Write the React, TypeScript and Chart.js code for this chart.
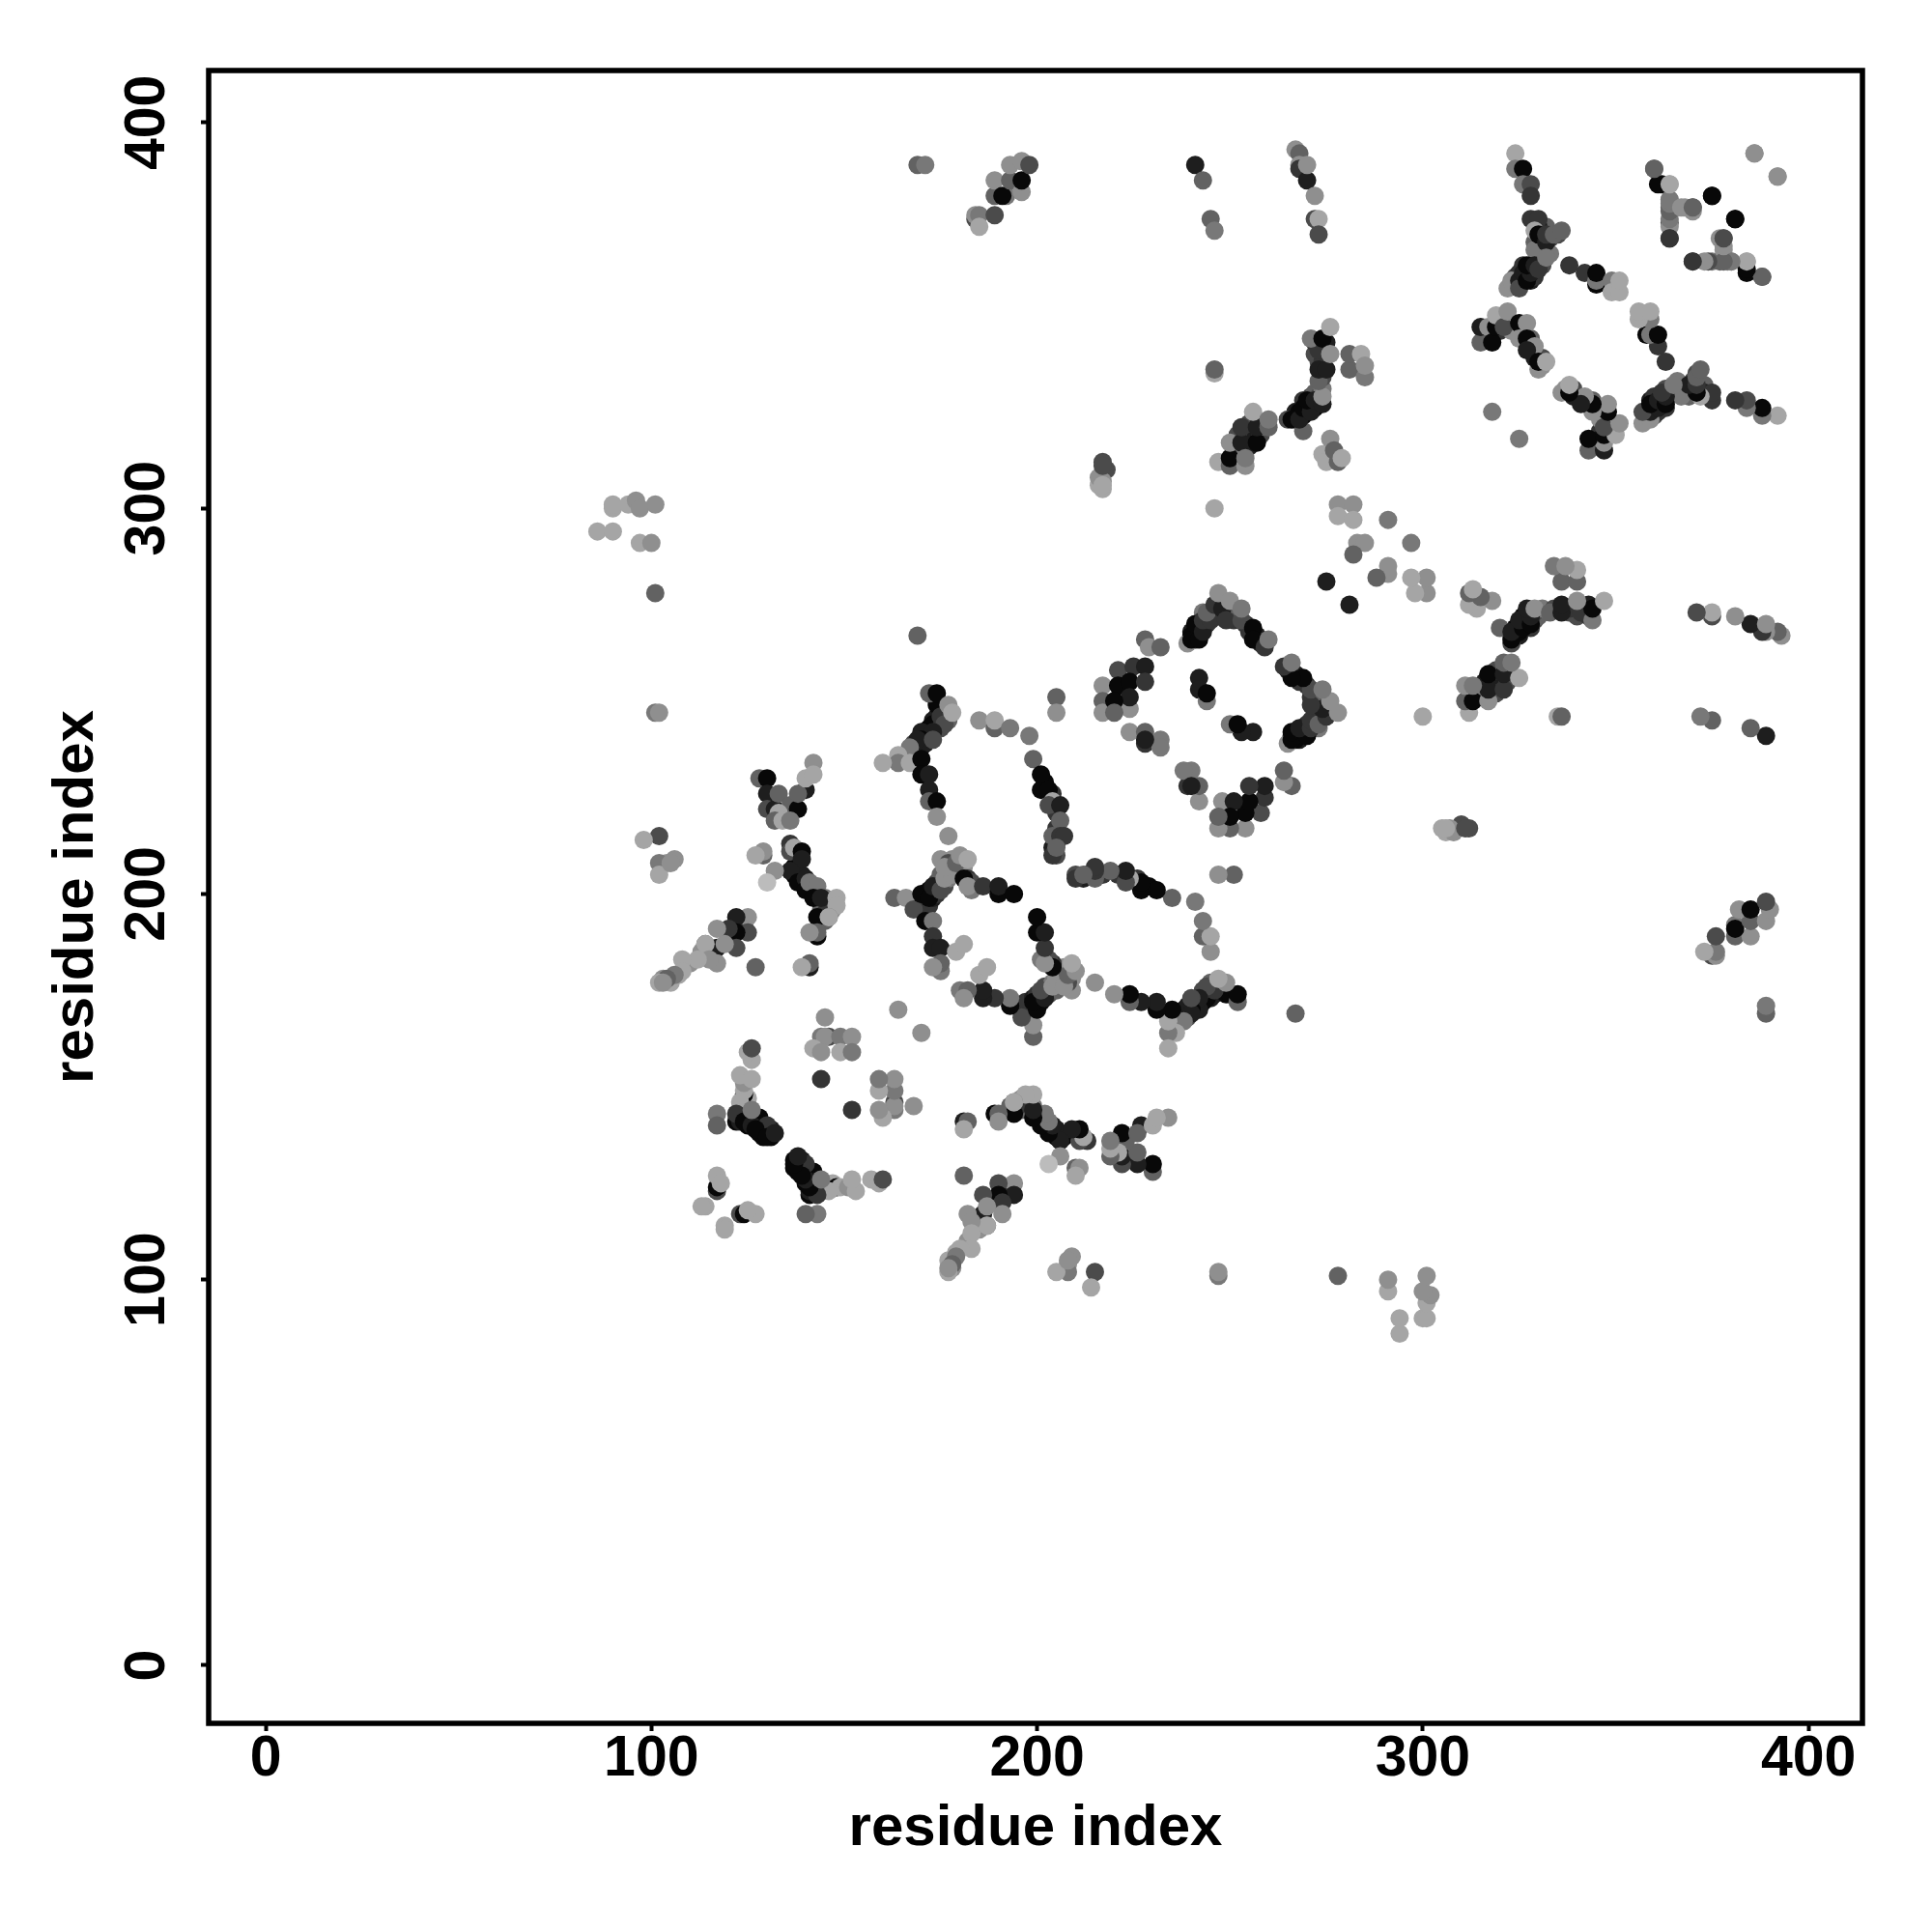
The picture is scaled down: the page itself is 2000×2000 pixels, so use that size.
import React, { useEffect, useRef } from "react";
import { Chart, registerables } from "chart.js";

Chart.register(...registerables);

type Contact = [number, number, number];

// Each contact: residue i, residue j (i < j), contact weight from 1 (weak) to 9 (strong).
const denseStrands: Contact[] = [
  [175,248,7],[174,246,8],[173,245,8],[174,244,8],[172,243,9],[173,244,9],[171,242,9],[172,241,8],[170,242,8],[171,240,9],[170,238,7],[169,239,8],[168,239,6],[175,243,6],[176,246,7],[177,245,5],[176,248,4],[174,249,9],[174,250,9],
  [169,197,8],[170,198,9],[171,197,9],[171,199,8],[172,201,9],[172,197,7],[173,199,8],[173,200,6],[174,200,7],[174,203,6],[175,203,5],[175,205,5],[176,202,6],[177,204,4],[177,206,5],[178,207,4],[178,209,3],[179,206,5],[180,206,7],[180,208,3],[181,207,3],[182,204,7],[183,203,6],[183,201,4],
  [241,266,9],[241,268,9],[242,268,8],[242,270,8],[243,269,9],[243,273,4],[244,270,7],[244,271,6],[245,273,5],[246,272,5],[240,268,8],[240,267,9],[247,275,5],[247,272,6],[248,272,7],[249,273,7],[250,272,6],[251,271,7],[252,273,5],[254,270,7],[255,268,7],[258,265,8],[257,267,8],
  [267,323,8],[267,325,8],[268,325,9],[269,324,9],[269,328,7],[270,325,9],[270,326,8],[271,327,8],[271,329,6],[272,326,9],[272,330,5],[273,327,9],[273,329,6],[274,331,4],[274,334,6],[273,338,6],[272,340,6],[274,338,7],[274,341,8],[275,343,8],[275,340,7],[273,343,8],[272,343,7],
  [251,315,7],[252,315,6],[255,318,8],[255,320,8],[255,322,6],[255,316,8],[258,319,6],[258,321,5],[259,322,4],[252,319,6],[251,312,5],[253,313,4],
  [324,358,7],[324,360,6],[325,361,7],[326,359,8],[326,363,7],[327,361,9],[328,359,8],[328,363,8],[329,361,9],[329,360,7],[330,364,7],[331,363,6],[331,365,5],[332,367,4],[333,366,4],
  [330,368,7],[331,370,8],[331,368,5],[332,373,5],[333,370,6],[335,371,6],[330,373,8],[329,369,5],[329,367,4],
  [137,205,9],[137,207,9],[139,205,8],[141,201,8],[142,201,7],[143,200,8],[145,199,4],[147,198,3],[147,196,3],[144,196,5],[145,195,7],[145,193,5],
  [122,141,9],[123,141,8],[125,140,9],[125,142,9],[127,140,8],[128,138,9],[129,139,8],[129,137,9],[131,137,9],[131,139,8],[124,144,5],[125,145,3],[124,146,3],[125,147,2],
  [124,192,7],[120,188,6],[121,189,5],[113,185,3],[116,184,3],[110,182,3],[105,178,3],[105,177,2],[107,179,2],[103,178,3],
  [202,229,9],[204,226,7],[205,221,7],[205,217,7],[205,215,6],[205,213,8],[204,212,8],[205,210,6],
  [316,345,6],[320,347,8],[320,346,7],[323,346,3],[326,346,8],[328,344,5],[328,341,8],[329,339,8],[331,337,3],[331,339,6],
  [217,309,5],[216,306,2],[218,310,6],[217,307,3],[217,312,6],
];
const sheetFar: Contact[] = [
  [86,294,2],[90,294,2],[90,300,2],[90,301,2],[94,301,2],[96,302,3],[97,300,3],[101,301,3],[97,291,2],[100,291,3],[101,278,5],[101,247,4],[102,247,3],
  [102,215,6],[98,214,2],[106,209,3],[104,208,3],[102,208,4],[102,205,2],[105,208,3],
  [246,335,2],[246,336,5],[246,300,2],[216,308,3],[217,305,2],[217,306,2],[217,311,6],[205,251,5],[205,247,3],[169,267,5],
];
const strandB: Contact[] = [
  [125,194,3],[122,194,8],[125,190,6],[122,190,9],[120,191,7],[117,191,3],[117,186,8],[122,186,6],[119,187,3],[114,187,5],[114,187,2],[117,182,3],[115,183,3],[112,183,2],[108,183,2],[108,180,2],[106,179,4],[104,178,5],[102,177,2],[103,177,3],[127,181,5],
];
const strandC: Contact[] = [
  [128,230,5],[130,230,9],[130,226,8],[130,222,6],[132,222,8],[133,226,5],[136,223,5],[138,222,9],[140,227,8],[138,226,5],[133,221,2],[132,219,5],[134,219,2],[136,219,4],[142,234,3],[140,230,2],[142,231,2],
];
const strandD: Contact[] = [
  [136,213,7],[136,211,6],[137,212,2],[139,211,9],[139,209,8],[136,206,8],[138,203,9],[140,204,8],[140,201,9],[141,203,4],[143,202,4],[142,199,9],[144,199,8],[148,199,2],[148,197,2],[143,189,9],[143,194,9],[146,194,4],[146,194,2],[143,190,5],[141,190,3],
  [129,210,5],[129,211,3],[127,210,2],[132,206,3],[130,203,1],[141,181,8],[141,182,5],[139,181,2],
];
const strandV: Contact[] = [
  [126,157,2],[125,159,2],[126,160,6],[124,148,9],[124,149,2],[124,151,3],[123,153,2],[126,152,2],[123,146,2],[117,143,4],[117,140,5],[122,143,7],[124,141,9],[128,142,9],[126,140,8],[126,144,4],[130,140,7],[127,139,9],[130,137,9],[132,138,8],
  [117,123,6],[117,124,9],[117,127,2],[118,125,2],[114,119,2],[113,119,2],[164,170,3],
  [145,168,3],[144,163,4],[146,163,6],[145,163,3],[149,163,4],[152,163,3],[142,160,2],[144,159,3],[149,159,2],[152,159,4],[144,152,7],
];
const hairpinOne: Contact[] = [
  [163,199,5],[166,199,3],[168,196,6],[170,200,9],[172,199,9],[173,202,8],[175,201,6],[176,204,3],[178,205,3],[175,209,3],[177,208,6],[176,207,3],[179,208,5],[180,210,3],[182,209,2],[181,204,9],[182,202,3],
  [186,202,7],[190,200,9],[190,202,8],[194,200,9],[171,193,9],[173,193,4],[173,189,7],[173,186,8],[175,186,8],[175,180,4],[175,182,5],[173,181,3],[179,185,2],[181,187,2],
];
const hairpinTwo: Contact[] = [
  [172,252,5],[174,252,9],[175,246,7],[176,244,6],[177,249,3],[178,247,2],[173,242,8],[170,240,9],[171,239,8],[169,240,8],[173,240,6],[167,238,4],[164,236,2],[164,234,4],[160,234,2],[167,234,2],
  [170,235,9],[170,231,9],[172,231,8],[172,227,8],[172,224,5],[174,224,9],[174,220,3],[177,215,3],
  [185,245,3],[189,243,5],[189,245,2],[193,243,4],[198,241,4],[199,235,5],[201,231,9],[201,227,9],[203,227,9],[204,224,2],[203,223,6],[206,223,8],[206,219,5],[204,215,5],[206,215,7],[207,215,7],[204,210,7],[205,212,5],
];
const diamond: Contact[] = [
  [228,266,5],[229,264,3],[232,264,5],[217,254,3],[217,250,5],[217,247,3],[221,258,6],[225,259,7],[228,259,8],[221,254,9],[224,255,9],[228,255,7],[224,248,3],[224,251,8],[220,250,9],[220,247,5],
  [228,239,7],[224,242,3],[228,242,5],[232,240,4],[232,238,4],[228,240,8],
  [242,256,8],[242,253,8],[244,250,4],[244,252,9],
  [239,265,3],[240,266,9],[242,266,9],[241,270,9],[243,268,8],[243,271,7],[245,271,7],[244,273,5],[246,275,7],[248,274,8],[249,271,7],[247,278,3],[250,276,3],[253,271,6],[253,274,4],[256,269,9],[256,266,9],[259,264,7],[260,266,4],
];
const ridge: Contact[] = [
  [247,312,2],[250,311,5],[250,313,9],[250,317,3],[253,317,8],[253,321,7],[254,311,3],[254,313,4],[257,317,9],[257,321,8],[256,325,2],[260,321,5],[260,323,4],
  [265,323,6],[266,323,9],[269,320,5],[268,323,8],[269,326,9],[271,325,8],[270,328,9],[272,328,8],[274,327,8],[274,329,3],[273,333,5],[273,336,8],[275,336,8],[273,341,7],[271,344,4],[274,344,9],[276,340,3],[276,347,2],
  [281,336,5],[281,340,5],[284,340,2],[285,334,4],[285,337,3],
  [274,314,2],[275,312,2],[276,318,3],[277,315,5],[278,312,5],[279,313,2],
  [278,301,3],[282,301,3],[278,298,2],[282,297,2],[291,297,4],[283,291,3],[285,291,3],[282,288,5],[275,281,8],
];
const crownLeft: Contact[] = [
  [169,389,5],[171,389,4],[184,375,6],[184,376,3],[185,376,4],[185,373,2],[189,376,6],[189,381,5],[189,385,3],[192,381,4],[191,381,9],[193,385,5],[193,389,3],[196,382,3],[196,390,3],[196,385,9],[198,389,6],
  [241,389,8],[243,385,5],[245,375,5],[246,372,4],
  [267,393,3],[268,392,5],[268,389,3],[268,388,7],[270,385,8],[270,389,3],[272,381,3],[272,375,6],[273,375,2],[273,371,6],
];
const crownRight: Contact[] = [
  [324,392,2],[324,388,4],[326,388,9],[326,384,4],[328,384,6],[328,381,7],
  [328,375,7],[330,375,7],[329,372,2],[330,371,9],[332,369,8],[332,371,7],[334,371,5],[336,372,5],
  [322,357,3],[323,359,3],[325,359,8],[325,357,6],[326,361,8],[327,359,9],[328,361,8],[327,363,9],[329,363,8],[330,362,7],[332,365,4],
  [338,363,7],[342,361,7],[345,358,9],[345,359,4],[345,361,9],[349,359,4],[349,356,2],[351,356,2],[351,359,2],
  [360,388,5],[362,384,9],[364,384,2],[364,380,4],[364,378,5],[364,374,6],[364,373,3],[364,370,7],[368,378,3],[370,378,6],
  [370,364,7],[375,364,4],[377,364,5],[379,364,4],[380,364,4],[384,361,9],[384,364,2],[388,360,5],
  [375,381,9],[381,375,9],[377,370,3],[378,367,3],[378,370,5],[386,392,3],[392,386,3],
  [315,343,5],[315,347,8],[317,347,3],[318,343,9],[319,347,9],[319,350,2],[321,347,6],[322,351,3],[325,348,9],[327,348,3],[325,344,3],[327,344,9],[329,342,3],[327,341,8],[330,336,3],[330,338,9],[332,338,2],[318,325,4],
];

const contacts: Contact[] = [
  ...denseStrands, ...sheetFar, ...strandB, ...strandC, ...strandD, ...strandV, ...hairpinOne,
  ...hairpinTwo, ...diamond, ...ridge, ...crownLeft, ...crownRight,
];

// A contact map is symmetric, so each contact appears at (i, j) and at (j, i).
const residueX = [...contacts.map((c) => c[0]), ...contacts.map((c) => c[1])];
const residueY = [...contacts.map((c) => c[1]), ...contacts.map((c) => c[0])];
const weights = [...contacts.map((c) => c[2]), ...contacts.map((c) => c[2])];

const tickStep = 100;
const axisTitle = "residue index";

const shade = (w: number) => {
  const g = Math.round(210 - 22.5 * w);
  return `rgb(${g},${g},${g})`;
};

const FONT = { family: "'Liberation Sans', Arial, sans-serif", size: 60, weight: "bold" as const, lineHeight: 1 };
const TICK_FONT = { ...FONT, size: 59 };

export default function App() {
  const ref = useRef<HTMLCanvasElement | null>(null);
  useEffect(() => {
    if (!ref.current) return;
    const box = {
      id: "box",
      afterDraw(chart: any) {
        const { ctx, chartArea: a } = chart;
        ctx.save();
        ctx.strokeStyle = "#000";
        ctx.lineWidth = 5.5;
        ctx.strokeRect(a.left, a.top, a.right - a.left, a.bottom - a.top);
        ctx.restore();
      },
    };
    const chart = new Chart(ref.current, {
      type: "scatter",
      data: {
        datasets: [
          {
            data: residueX.map((x, i) => ({ x, y: residueY[i] })),
            pointRadius: 9.5,
            pointBorderWidth: 0,
            pointBackgroundColor: weights.map(shade),
          },
        ],
      },
      options: {
        animation: false,
        responsive: false,
        layout: { padding: { top: 73, right: 72, left: 0, bottom: 0 } },
        plugins: { legend: { display: false }, tooltip: { enabled: false } },
        scales: {
          x: {
            type: "linear",
            min: -14.8,
            max: 414.0,
            afterFit(s: any) {
              s.height = 216;
            },
            border: { display: false },
            grid: { drawOnChartArea: false, drawTicks: true, tickLength: 8, tickWidth: 4, tickColor: "#000" },
            ticks: { stepSize: tickStep, includeBounds: false, color: "#000", font: TICK_FONT, padding: 0, maxRotation: 0, minRotation: 0, autoSkip: false },
            title: { display: true, text: axisTitle, color: "#000", font: FONT, padding: { top: 0, bottom: 77 } },
          },
          y: {
            type: "linear",
            min: -15.03,
            max: 413.5,
            afterFit(s: any) {
              s.width = 216;
            },
            border: { display: false },
            grid: { drawOnChartArea: false, drawTicks: true, tickLength: 8, tickWidth: 4, tickColor: "#000" },
            ticks: { stepSize: tickStep, includeBounds: false, color: "#000", font: TICK_FONT, padding: 5, minRotation: 90, maxRotation: 90, crossAlign: "center", autoSkip: false },
            title: { display: true, text: axisTitle, color: "#000", font: FONT, padding: { top: 49, bottom: 0 } },
          },
        },
      },
      plugins: [box],
    } as any);
    return () => chart.destroy();
  }, []);
  return <canvas ref={ref} width={2000} height={2000} style={{ position: "absolute", left: 0, top: 0, width: 2000, height: 2000 }} />;
}
